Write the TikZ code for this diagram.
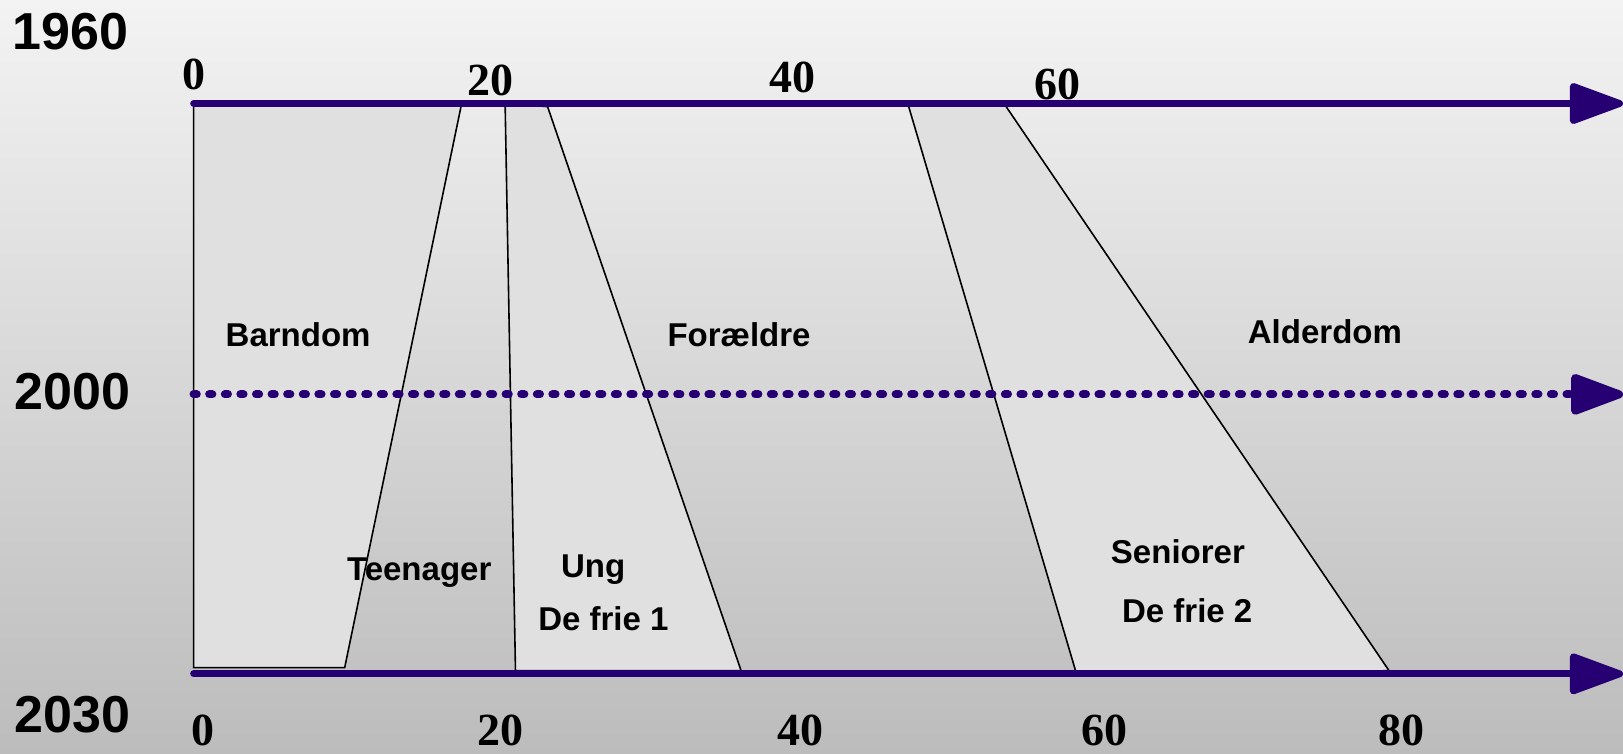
\documentclass[tikz,border=0pt]{standalone}
\usepackage{fontspec}
\setmainfont{Liberation Serif}
\setsansfont{Liberation Sans}
\usepackage{tikz}
\usetikzlibrary{arrows.meta}
\usepackage{xcolor}
\definecolor{dfaxis}{RGB}{38,0,115}
\definecolor{dfband}{RGB}{224,224,224}
\definecolor{dfbgtop}{RGB}{243,243,243}
\definecolor{dfbgbot}{RGB}{188,188,188}
\tikzstyle{axis} = [line width=3.4pt, color=dfaxis, line cap=round, -{Triangle[length=30pt, width=21pt, round]}]
\tikzstyle{band} = [draw=black, line width=0.8pt, fill=dfband]
\tikzstyle{year} = [font=\sffamily\bfseries\fontsize{26}{31}\selectfont]
\tikzstyle{age} = [font=\rmfamily\bfseries\fontsize{23}{27}\selectfont, inner sep=0pt]
\tikzstyle{phase} = [font=\sffamily\bfseries\fontsize{16.5}{20}\selectfont]

\begin{document}
\begin{tikzpicture}[x=0.5175pt, y=-0.5175pt]
    % Background
    \shade[top color=dfbgtop, bottom color=dfbgbot] (0,0) rectangle (1568,728.4);
    \useasboundingbox (0,0) rectangle (1568,728.4);

    % Bands
    \draw[band] (187,100) -- (446,100) -- (333,645) -- (187,645) -- cycle;
    \draw[band] (488,100) -- (529,103) -- (716,648) -- (498,648) -- cycle;
    \draw[band] (877,100) -- (970,100) -- (1342,648) -- (1040,651) -- cycle;

    % Axes
    \coordinate (t0) at (187,100);
    \coordinate (t1) at (1568,100);
    \coordinate (m0) at (187,381);
    \coordinate (m1) at (1568,381);
    \coordinate (b0) at (187,651);
    \coordinate (b1) at (1568,651);
    \draw[axis] (t0) -- (t1);
    \draw[axis, line width=4pt, dash pattern=on 1.6pt off 6.2pt] (m0) -- (m1);
    \draw[axis] (b0) -- (b1);

    % Years
    \node[year] (y1960) at (68,31) {1960};
    \node[year] (y2000) at (70,378) {2000};
    \node[year] (y2030) at (70,690) {2030};

    % Ages 1960
    \node[age] (ta0) at (187,72) {0};
    \node[age] (ta20) at (474,78) {20};
    \node[age] (ta40) at (766,75) {40};
    \node[age] (ta60) at (1022,82) {60};

    % Ages 2030
    \node[age] (ba0) at (196,706) {0};
    \node[age] (ba20) at (484,706) {20};
    \node[age] (ba40) at (773,706) {40};
    \node[age] (ba60) at (1067,706) {60};
    \node[age] (ba80) at (1354,706) {80};

    % Phases
    \node[phase] (barndom) at (288,323) {Barndom};
    \node[phase] (foraeldre) at (714,323) {Forældre};
    \node[phase] (alderdom) at (1280,320) {Alderdom};
    \node[phase] (teenager) at (405,553) {Teenager};
    \node[phase] (ung) at (573,550) {Ung};
    \node[phase] (frie1) at (583,598) {De frie 1};
    \node[phase] (seniorer) at (1138,533) {Seniorer};
    \node[phase] (frie2) at (1147,590) {De frie 2};
\end{tikzpicture}
\end{document}
